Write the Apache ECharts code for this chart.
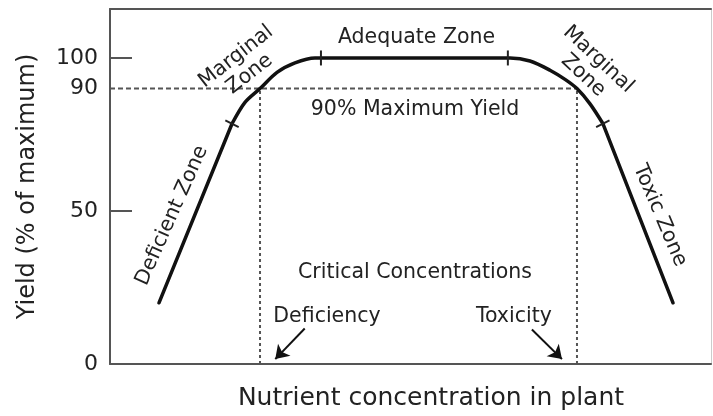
<!DOCTYPE html>
<html><head><meta charset="utf-8">
<script src="https://cdn.jsdelivr.net/npm/echarts@6/dist/echarts.min.js"></script>
<style>html,body{margin:0;padding:0;background:#fff}#c{width:713px;height:416px}</style>
</head><body><div id="c"></div>
<script>
// ---- data (x: nutrient concentration, arbitrary 0-100 scale; y: yield % of maximum)
const curveX = [8.15, 20.3, 22.46, 24.96, 27.79, 30.78, 34.11, 66.56, 69.88, 73.21, 75.71, 77.70, 79.87, 82.03, 93.68];
const curveY = [20, 78.5, 85.5, 90, 95.3, 98.4, 100, 100, 99, 96, 93, 90, 85, 78.5, 20];
const boundaryX = [20.3, 35.1, 66.2, 82.0];
const boundaryY = [78.5, 100, 100, 78.5];
const yTickLabels = [0, 50, 90, 100];
const yTickMarks = [50, 100];
const criticalYield = 90;
const criticalX = [24.96, 77.7];
const labelTexts = ['Adequate Zone', '90% Maximum Yield', 'Critical Concentrations', 'Deficiency', 'Toxicity', 'Marginal\nZone', 'Marginal\nZone', 'Deficient Zone', 'Toxic Zone'];
const labelX = [51.0, 50.75, 50.75, 36.1, 67.2, 22.1, 80.0, 10.3, 91.5];
const labelY = [106.6, 83.0, 30.0, 15.5, 15.5, 97.6, 96.9, 48.5, 48.5];
const arrowFrom = [[32.4, 11.6], [70.2, 11.3]];
const arrowTo = [[27.5, 1.6], [75.2, 1.6]];
const xTitle = 'Nutrient concentration in plant';
const yTitle = 'Yield (% of maximum)';

// ---- styles
const FONT = 'DejaVu Sans';
const TXT = '#222';
const AX = '#555';
const labelRotate = [0, 0, 0, 0, 0, 38, -43, 66, -67];
const tickRotate = [63, 0, 0, -63];

const pts = curveX.map((x, i) => [x, curveY[i]]);
const last = pts.length - 1;
const curveStyle = {color: '#111', width: 3.5, join: 'round', cap: 'round'};

const chart = echarts.init(document.getElementById('c'), null, {renderer: 'canvas'});
const option = {
  animation: false,
  backgroundColor: '#fff',
  grid: {left: 110, right: 2, top: 9, bottom: 48},
  xAxis: [{
    type: 'value', min: 0, max: 100,
    name: xTitle, nameLocation: 'middle', nameGap: 22,
    nameTextStyle: {fontFamily: FONT, fontSize: 25, color: TXT, padding: [0, 0, 0, 41], verticalAlign: 'top'},
    axisLine: {show: true, onZero: false, lineStyle: {color: AX, width: 2}},
    axisTick: {show: false}, axisLabel: {show: false}, splitLine: {show: false}
  }, {
    type: 'value', min: 0, max: 100, position: 'top',
    axisLine: {show: true, onZero: false, lineStyle: {color: AX, width: 2}},
    axisTick: {show: false}, axisLabel: {show: false}, splitLine: {show: false}
  }],
  yAxis: [{
    type: 'value', min: 0, max: 116,
    name: yTitle, nameLocation: 'middle', nameGap: 70, nameRotate: 90,
    nameTextStyle: {fontFamily: FONT, fontSize: 24, color: TXT},
    axisLine: {show: true, onZero: false, lineStyle: {color: AX, width: 2}},
    axisTick: {show: true, inside: true, length: 22, customValues: yTickMarks, lineStyle: {color: AX, width: 2}},
    axisLabel: {show: true, customValues: yTickLabels, margin: 12, fontFamily: FONT, fontSize: 22, color: TXT},
    splitLine: {show: false}
  }, {
    type: 'value', min: 0, max: 116, position: 'right',
    axisLine: {show: true, onZero: false, lineStyle: {color: '#ccc', width: 1}},
    axisTick: {show: false}, axisLabel: {show: false}, splitLine: {show: false}
  }],
  series: [
    {
      type: 'line', name: 'critH', symbol: 'none', silent: true,
      data: [[0, criticalYield], [criticalX[1], criticalYield]],
      lineStyle: {color: '#555', width: 2, type: [5, 3]}
    },
    {
      type: 'line', name: 'critV1', symbol: 'none', silent: true,
      data: [[criticalX[0], 0], [criticalX[0], criticalYield]],
      lineStyle: {color: '#555', width: 2, type: [3, 3]}
    },
    {
      type: 'line', name: 'critV2', symbol: 'none', silent: true,
      data: [[criticalX[1], 0], [criticalX[1], criticalYield]],
      lineStyle: {color: '#555', width: 2, type: [3, 3]}
    },
    {
      type: 'line', name: 'yieldLeft', symbol: 'none', smooth: false,
      data: pts.slice(0, 2), lineStyle: curveStyle, z: 5
    },
    {
      type: 'line', name: 'yieldMid', symbol: 'none', smooth: 0.3,
      data: pts.slice(1, last), lineStyle: curveStyle, z: 5
    },
    {
      type: 'line', name: 'yieldRight', symbol: 'none', smooth: false,
      data: pts.slice(last - 1), lineStyle: curveStyle, z: 5
    },
    {
      type: 'scatter', name: 'bounds', symbol: 'rect', symbolSize: [2, 15],
      symbolRotate: (v, p) => tickRotate[p.dataIndex],
      data: boundaryX.map((x, i) => [x, boundaryY[i]]),
      itemStyle: {color: '#222', opacity: 1}, z: 6
    },
    {
      type: 'scatter', name: 'labels', symbolSize: 0, silent: true,
      itemStyle: {color: TXT, opacity: 1},
      data: labelTexts.map((t, i) => ({
        value: [labelX[i], labelY[i]],
        label: {rotate: labelRotate[i], formatter: t}
      })),
      label: {show: true, position: [0, 0], align: 'center', verticalAlign: 'middle', opacity: 1,
        fontFamily: FONT, fontSize: 20.5, color: TXT, textBorderWidth: 0, lineHeight: 22},
      z: 7,
      markLine: {
        silent: true, symbol: ['none', 'arrow'], symbolSize: 13,
        label: {show: false},
        lineStyle: {color: '#111', width: 2, type: 'solid', opacity: 1},
        data: arrowFrom.map((f, i) => [{coord: f}, {coord: arrowTo[i]}])
      }
    }
  ]
};
chart.setOption(option);
</script></body></html>
